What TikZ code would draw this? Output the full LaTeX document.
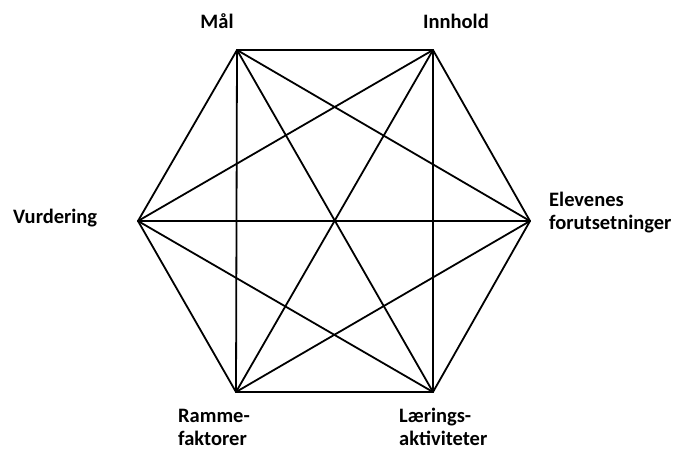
\documentclass[tikz,border=0pt]{standalone}
\usepackage{fontspec}
\setmainfont{Carlito}
\usetikzlibrary{calc, positioning}

\begin{document}
\begin{tikzpicture}[
  x=1pt, y=-1pt,
  corner/.style={coordinate},
  lbl/.style={font=\fontsize{20.5}{23}\selectfont\bfseries, align=left, inner sep=0pt},
  edge/.style={line width=1.8pt, line cap=round, line join=round},
]
  \useasboundingbox (0,0) rectangle (676,450);
  % hexagon corners
  \node[corner] (maal) at (237,50) {};
  \node[corner] (innhold) at (433,50) {};
  \node[corner] (elev) at (530,221) {};
  \node[corner] (laer) at (433,392) {};
  \node[corner] (ramme) at (236,392) {};
  \node[corner] (vurd) at (138,221) {};
  % every corner to every other corner
  \foreach \a/\b in {maal/innhold, maal/elev, maal/laer, maal/ramme, maal/vurd,
      innhold/elev, innhold/laer, innhold/ramme, innhold/vurd,
      elev/laer, elev/ramme, elev/vurd,
      laer/ramme, laer/vurd, ramme/vurd}
    \draw[edge] (\a) -- (\b);
  % labels
  \node[lbl] (tmaal) at (217,21) {Mål};
  \node[lbl, anchor=west] (tinnhold) at (423,21) {Innhold};
  \node[lbl, anchor=west] (tvurd) at (13,218) {Vurdering};
  \node[lbl, anchor=west] (telev) at (549,213) {Elevenes\\forutsetninger};
  \node[lbl, anchor=west] (tramme) at (178,427) {Ramme-\\faktorer};
  \node[lbl, anchor=west] (tlaer) at (399,427) {Lærings-\\aktiviteter};
\end{tikzpicture}
\end{document}
